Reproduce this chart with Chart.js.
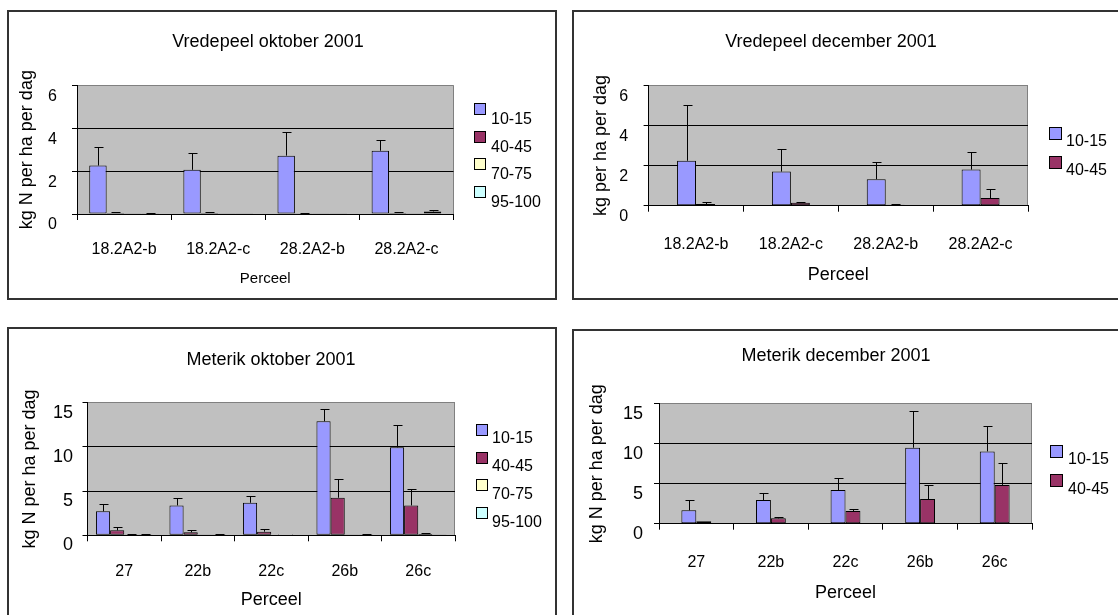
<!DOCTYPE html>
<html>
<head>
<meta charset="utf-8">
<script src="https://cdn.jsdelivr.net/npm/chart.js@4.4.1/dist/chart.umd.min.js"></script>
<style>
  html, body { margin:0; padding:0; background:#fff; overflow:hidden; width:1118px; height:615px; }
  .panel { position:absolute; box-sizing:border-box; border:2px solid #333; background:#fff; }
  .panel canvas { display:block; }
</style>
</head>
<body>
<div class="panel" id="p1"><canvas></canvas></div>
<div class="panel" id="p2"><canvas></canvas></div>
<div class="panel" id="p3"><canvas></canvas></div>
<div class="panel" id="p4"><canvas></canvas></div>
<script>
// categories
const vredepeelPercelen = ['18.2A2-b', '18.2A2-c', '28.2A2-b', '28.2A2-c'];
const meterikPercelen = ['27', '22b', '22c', '26b', '26c'];
const dieptesOkt = ['10-15', '40-45', '70-75', '95-100'];
const dieptesDec = ['10-15', '40-45'];
const yTicksVredepeel = [0, 2, 4, 6];
const yTicksMeterik = [0, 5, 10, 15];

// Vredepeel oktober 2001 (gemiddelde + sd)
const vrOkt10 = [2.26, 2.06, 2.72, 2.95];
const vrOkt10Sd = [0.86, 0.78, 1.10, 0.52];
const vrOkt40 = [0.05, 0.05, 0.03, 0.05];
const vrOkt40Sd = [0.05, 0.05, 0.01, 0.05];
const vrOkt70 = [0.03, 0.03, 0.03, 0.03];
const vrOkt70Sd = [0, 0, 0, 0];
const vrOkt95 = [0.03, 0.03, 0.03, 0.12];
const vrOkt95Sd = [0.02, 0, 0, 0.05];

// Vredepeel december 2001
const vrDec10 = [2.24, 1.70, 1.32, 1.80];
const vrDec10Sd = [2.76, 1.11, 0.86, 0.88];
const vrDec40 = [0.08, 0.15, 0.05, 0.38];
const vrDec40Sd = [0.09, 0.02, 0.01, 0.44];

// Meterik oktober 2001
const meOkt10 = [2.71, 3.38, 3.68, 12.9, 9.95];
const meOkt10Sd = [0.82, 0.83, 0.72, 1.35, 2.53];
const meOkt40 = [0.56, 0.34, 0.41, 4.25, 3.38];
const meOkt40Sd = [0.34, 0.26, 0.34, 2.15, 1.85];
const meOkt70 = [0.08, 0.02, 0.06, 0.02, 0.15];
const meOkt70Sd = [0.02, 0, 0.02, 0, 0.12];
const meOkt95 = [0.08, 0.08, 0.06, 0.08, 0.02];
const meOkt95Sd = [0.03, 0.03, 0.02, 0.03, 0];

// Meterik december 2001
const meDec10 = [1.67, 2.96, 4.21, 9.5, 9.04];
const meDec10Sd = [1.29, 0.92, 1.54, 4.6, 3.16];
const meDec40 = [0.3, 0.67, 1.58, 3.08, 4.85];
const meDec40Sd = [0, 0.21, 0.3, 1.75, 2.8];

const kleuren = ['#9999FF', '#993366', '#FFFFCC', '#CCFFFF'];
const FONT = "'Liberation Sans', Arial, sans-serif";
Chart.defaults.font.family = FONT;
Chart.defaults.color = '#000';

const errorBars = {
  id: 'errorBars',
  afterDatasetsDraw(chart) {
    const ctx = chart.ctx, y = chart.scales.y;
    ctx.save();
    ctx.strokeStyle = '#000';
    ctx.lineWidth = 1;
    chart.data.datasets.forEach((ds, i) => {
      chart.getDatasetMeta(i).data.forEach((bar, j) => {
        const sd = ds.sd[j];
        if (!sd) return;
        const top = Math.round(y.getPixelForValue(ds.data[j] + sd)) + 0.5;
        const x = Math.round(bar.x) + 0.5;
        ctx.beginPath();
        ctx.moveTo(x, bar.y);
        ctx.lineTo(x, top);
        ctx.moveTo(x - 4, top);
        ctx.lineTo(x + 5, top);
        ctx.stroke();
      });
    });
    ctx.restore();
  }
};

function makePanel(id, spec, labels, depths, values, sds, yTicks) {
  const div = document.getElementById(id);
  div.style.left = spec.box.x + 'px';
  div.style.top = spec.box.y + 'px';
  div.style.width = spec.box.w + 'px';
  div.style.height = spec.box.h + 'px';
  const ox = spec.box.x + 2, oy = spec.box.y + 2;
  const W = spec.box.w - 4, H = spec.box.h - 4;
  const canvas = div.querySelector('canvas');
  canvas.width = W; canvas.height = H;
  canvas.style.width = W + 'px'; canvas.style.height = H + 'px';

  const L = spec.plot.l - ox, R = spec.plot.r - ox, T = spec.plot.t - oy, B = spec.plot.b - oy;
  const yLh = spec.yTitle.size * 1.2, xLh = spec.xTitle.size * 1.2;

  const plotBg = {
    id: 'plotBg',
    beforeDraw(chart) {
      const a = chart.chartArea, ctx = chart.ctx;
      ctx.save();
      ctx.fillStyle = '#C0C0C0';
      ctx.fillRect(a.left, a.top, a.right - a.left, a.bottom - a.top);
      ctx.strokeStyle = '#808080';
      ctx.lineWidth = 1;
      ctx.beginPath();
      ctx.moveTo(Math.round(a.right) - 0.5, a.top);
      ctx.lineTo(Math.round(a.right) - 0.5, a.bottom);
      ctx.stroke();
      ctx.restore();
    },
    afterDraw(chart) {
      const ctx = chart.ctx;
      ctx.save();
      ctx.fillStyle = '#000';
      ctx.textBaseline = 'middle';
      ctx.textAlign = 'center';
      ctx.font = spec.title.size + 'px ' + FONT;
      ctx.fillText(spec.title.text, spec.title.x - ox, spec.title.y - oy);
      const lg = spec.legend;
      ctx.textAlign = 'left';
      ctx.font = lg.size + 'px ' + FONT;
      depths.forEach((d, i) => {
        const bx = Math.round(lg.x - ox) + 0.5, by = Math.round(lg.y - oy + i * lg.step) + 0.5;
        ctx.fillStyle = kleuren[i];
        ctx.fillRect(bx, by, lg.box, lg.box);
        ctx.strokeStyle = '#000';
        ctx.strokeRect(bx, by, lg.box, lg.box);
        ctx.fillStyle = '#000';
        ctx.fillText(d, lg.textX - ox, lg.y - oy + i * lg.step + lg.textDy);
      });
      ctx.restore();
    }
  };

  const yMax = yTicks[yTicks.length - 1];
  return new Chart(canvas, {
    type: 'bar',
    data: {
      labels: labels,
      datasets: depths.map((d, i) => ({
        label: d,
        data: values[i],
        sd: sds[i],
        backgroundColor: kleuren[i],
        borderColor: '#000',
        borderWidth: 1,
        borderSkipped: false,
        categoryPercentage: spec.catPct,
        barPercentage: 1
      }))
    },
    options: {
      responsive: false,
      animation: false,
      devicePixelRatio: 1,
      events: [],
      layout: { padding: { top: T, right: W - R, left: 0, bottom: 0 } },
      plugins: { legend: { display: false }, title: { display: false }, tooltip: { enabled: false } },
      scales: {
        x: {
          offset: true,
          grid: { drawOnChartArea: false, offset: true, tickLength: 6, tickColor: '#000' },
          border: { color: '#000', width: 1 },
          ticks: { font: { size: 16 }, color: '#000', padding: spec.xTickPad, maxRotation: 0, autoSkip: false },
          title: {
            display: true, text: spec.xTitle.text, color: '#000',
            font: { size: spec.xTitle.size },
            padding: { top: 0, bottom: H - (spec.xTitle.y - oy) - xLh / 2 }
          },
          afterFit(s) { s.height = H - B; }
        },
        y: {
          min: yTicks[0], max: yMax,
          grid: {
            color: c => c.tick && c.tick.value === yMax ? '#808080' : '#000',
            tickColor: '#000', tickLength: 5, lineWidth: 1
          },
          border: { color: '#000', width: 1 },
          ticks: {
            stepSize: yTicks[1] - yTicks[0], font: { size: spec.yTickSize }, color: '#000',
            padding: spec.yTickPad, labelOffset: spec.yLabelOffset
          },
          title: {
            display: true, text: spec.yTitle.text, color: '#000',
            font: { size: spec.yTitle.size },
            padding: { top: (spec.yTitle.x - ox) - yLh / 2, bottom: 0 }
          },
          afterFit(s) { s.width = L; }
        }
      }
    },
    plugins: [plotBg, errorBars]
  });
}

makePanel('p1', {
  box: { x: 7, y: 10, w: 550, h: 290 },
  plot: { l: 77, r: 453.5, t: 85.3, b: 214 },
  title: { text: 'Vredepeel oktober 2001', x: 268, y: 42.3, size: 18 },
  yTitle: { text: 'kg N per ha per dag', x: 27, size: 18 },
  xTitle: { text: 'Perceel', y: 279, size: 15 },
  yTickSize: 16, yTickPad: 15, yLabelOffset: 11, xTickPad: 20,
  catPct: 0.74,
  legend: { x: 474, y: 103, box: 11, step: 27.7, textX: 491, textDy: 16.5, size: 16 }
}, vredepeelPercelen, dieptesOkt,
  [vrOkt10, vrOkt40, vrOkt70, vrOkt95], [vrOkt10Sd, vrOkt40Sd, vrOkt70Sd, vrOkt95Sd], yTicksVredepeel);

makePanel('p2', {
  box: { x: 572, y: 10, w: 560, h: 290 },
  plot: { l: 648.6, r: 1028, t: 85.3, b: 205.7 },
  title: { text: 'Vredepeel december 2001', x: 831, y: 42.3, size: 18 },
  yTitle: { text: 'kg per ha per dag', x: 601, size: 18 },
  xTitle: { text: 'Perceel', y: 275, size: 18 },
  yTickSize: 16, yTickPad: 15.5, yLabelOffset: 11, xTickPad: 23,
  catPct: 0.40,
  legend: { x: 1048.6, y: 126.7, box: 12, step: 29.3, textX: 1066, textDy: 15, size: 16 }
}, vredepeelPercelen, dieptesDec,
  [vrDec10, vrDec40], [vrDec10Sd, vrDec40Sd], yTicksVredepeel);

makePanel('p3', {
  box: { x: 7, y: 327, w: 550, h: 320 },
  plot: { l: 87.5, r: 455, t: 402.7, b: 535.3 },
  title: { text: 'Meterik oktober 2001', x: 271, y: 360, size: 18 },
  yTitle: { text: 'kg N per ha per dag', x: 30, size: 18 },
  xTitle: { text: 'Perceel', y: 600, size: 18 },
  yTickSize: 18, yTickPad: 9.5, yLabelOffset: 10, xTickPad: 21,
  catPct: 0.77,
  legend: { x: 476, y: 424, box: 11, step: 27.7, textX: 492, textDy: 15, size: 16 }
}, meterikPercelen, dieptesOkt,
  [meOkt10, meOkt40, meOkt70, meOkt95], [meOkt10Sd, meOkt40Sd, meOkt70Sd, meOkt95Sd], yTicksMeterik);

makePanel('p4', {
  box: { x: 572, y: 329, w: 560, h: 320 },
  plot: { l: 659, r: 1032, t: 403.7, b: 523.7 },
  title: { text: 'Meterik december 2001', x: 836, y: 356, size: 18 },
  yTitle: { text: 'kg N per ha per dag', x: 597.5, size: 18 },
  xTitle: { text: 'Perceel', y: 593, size: 18 },
  yTickSize: 18, yTickPad: 11, yLabelOffset: 10, xTickPad: 23.5,
  catPct: 0.40,
  legend: { x: 1050, y: 445, box: 12, step: 29.3, textX: 1068, textDy: 15, size: 16 }
}, meterikPercelen, dieptesDec,
  [meDec10, meDec40], [meDec10Sd, meDec40Sd], yTicksMeterik);
</script>
</body>
</html>
